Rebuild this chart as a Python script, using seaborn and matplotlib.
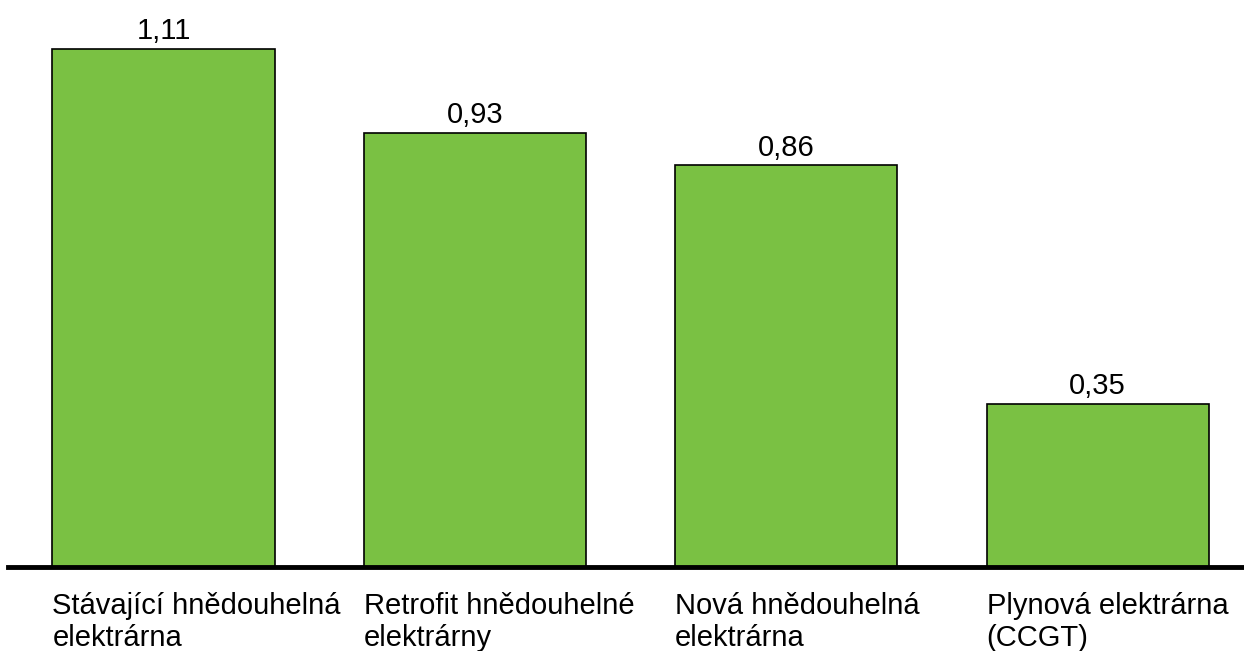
import matplotlib
matplotlib.use("Agg")
import matplotlib.pyplot as plt
import seaborn as sns
import pandas as pd

# data
categories = ["Stávající hnědouhelná\nelektrárna",
              "Retrofit hnědouhelné\nelektrárny",
              "Nová hnědouhelná\nelektrárna",
              "Plynová elektrárna\n(CCGT)"]
values = [1.11, 0.93, 0.86, 0.35]
value_labels = ["1,11", "0,93", "0,86", "0,35"]

sns.set_style("white")
plt.rcParams["font.family"] = ["Liberation Sans", "DejaVu Sans"]
plt.rcParams["text.color"] = "black"

df = pd.DataFrame({"kat": categories, "hodnota": values})

bar_w = 0.714
fig = plt.figure(figsize=(12.44, 6.51), dpi=100)
ax = fig.add_axes([0.0064, 0.129, 0.9936, 0.871])

sns.barplot(data=df, x="kat", y="hodnota", color="#7AC143", saturation=1,
            width=bar_w, edgecolor="black", linewidth=1.2, ax=ax)

for i, (v, lab) in enumerate(zip(values, value_labels)):
    ax.text(i, v + 0.007, lab, ha="center", va="bottom", fontsize=21,
            color="black")

# category labels, left aligned with the bar edge
ax.set_xticks([])
ax.set_xlabel("")
ax.set_ylabel("")
for i, c in enumerate(categories):
    ax.text(i - bar_w / 2, -0.054, c, ha="left", va="top", fontsize=21,
            linespacing=1.18, color="black", clip_on=False)

ax.set_yticks([])
ax.set_xlim(-0.5, 3.47)
ax.set_ylim(0, 1.214)
for s in ["top", "right", "left"]:
    ax.spines[s].set_visible(False)
ax.spines["bottom"].set_linewidth(3.5)
ax.spines["bottom"].set_color("black")

fig.savefig("out.png", dpi=100)
